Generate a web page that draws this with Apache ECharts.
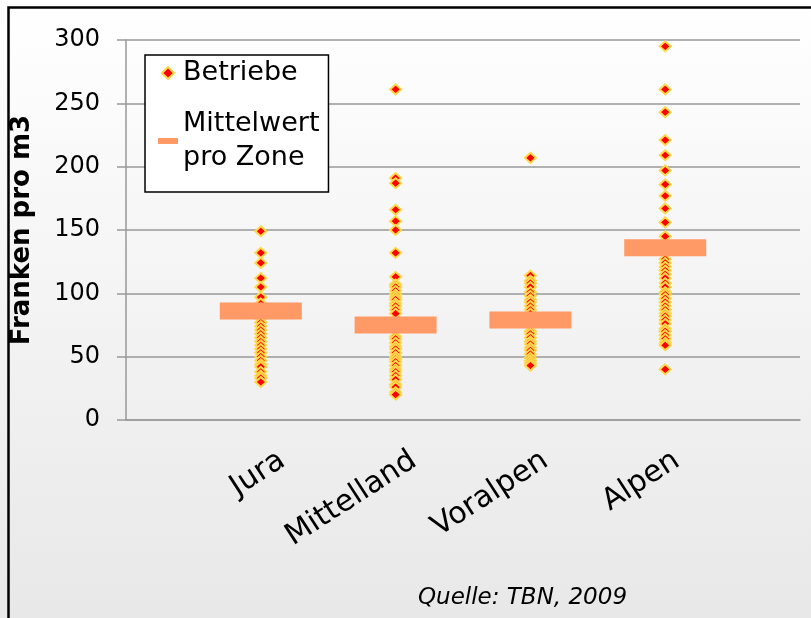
<!DOCTYPE html>
<html>
<head>
<meta charset="utf-8">
<script src="https://cdn.jsdelivr.net/npm/echarts@6/dist/echarts.min.js"></script>
<style>
  html, body { margin: 0; padding: 0; }
  #chart { width: 811px; height: 618px; }
</style>
</head>
<body>
<div id="chart"></div>
<script>
// zones on the x axis (positions 1..4)
const zones = ['Jura', 'Mittelland', 'Voralpen', 'Alpen']

// Franken pro m3, one value per Betrieb
const juraValues = [149, 132, 124, 112, 105, 97, 92, 88, 84, 80, 77, 74, 71, 68, 65,
    62, 59, 56, 53, 50, 47, 44, 42, 38, 35, 33, 30]
const mittellandValues = [261, 191, 187, 166, 157, 150, 132, 113, 107, 105, 102, 99, 97,
    95, 92, 90, 87, 84, 66, 64, 61, 58, 56, 53, 50, 48, 46, 43, 40, 38, 35, 32, 28, 26, 22, 20]
const voralpenValues = [207, 114, 110, 108, 105, 101, 98, 95, 93, 90, 87, 84, 70, 68, 65,
    62, 60, 57, 55, 52, 49, 47, 45, 43]
const alpenValues = [295, 261, 243, 221, 209, 197, 186, 177, 167, 156, 145, 127, 124, 121,
    118, 115, 112, 108, 105, 101, 99, 96, 93, 90, 87, 84, 82, 79, 76, 72, 70, 67, 64, 61, 59, 40]

// Mittelwert pro Zone
const means = [86, 75, 79, 136]

const yTicks = [0, 50, 100, 150, 200, 250, 300]

const FONT = 'DejaVu Sans'

const pointData = []
;[juraValues, mittellandValues, voralpenValues, alpenValues].forEach((vals, i) => {
    vals.forEach(v => pointData.push([i + 1, v]))
})
const meanData = means.map((m, i) => [i + 1, m])

const chart = echarts.init(document.getElementById('chart'))

chart.setOption({
    backgroundColor: new echarts.graphic.LinearGradient(0, 0, 0, 1, [
        { offset: 0, color: '#FFFFFF' },
        { offset: 1, color: '#E8E8E8' },
    ]),
    animation: false,
    textStyle: { fontFamily: FONT },
    title: {
        text: 'Quelle: TBN, 2009',
        left: 413,
        top: 582,
        textStyle: {
            fontFamily: FONT,
            fontStyle: 'italic',
            fontWeight: 'normal',
            fontSize: 23,
            color: '#000',
        },
    },
    legend: {
        orient: 'vertical',
        left: 145,
        top: 55,
        padding: [1, 9, 0, 13],
        itemGap: 0,
        itemWidth: 20,
        itemHeight: 12,
        backgroundColor: '#FFFFFF',
        borderColor: '#000',
        borderWidth: 1.5,
        borderRadius: 0,
        formatter: name => name === 'Mittelwert pro Zone' ? 'Mittelwert\npro Zone' : name,
        textStyle: { fontFamily: FONT, fontSize: 27, color: '#000', lineHeight: 34 },
        data: [
            { name: 'Betriebe', icon: 'path://M6,0L12,6L6,12L0,6Z' },
            {
                name: 'Mittelwert pro Zone',
                icon: 'path://M0,0h20v6h-20z',
                textStyle: { padding: [34, 0, 0, 0] },
            },
        ],
    },
    grid: [
        { left: 126, top: 40, width: 674, height: 380 },
        // label-only grid, shifted so the rotated names sit like in the original
        { left: 151, top: 40, width: 674, height: 380, show: false },
    ],
    xAxis: [
        {
            type: 'value',
            gridIndex: 0,
            min: 0,
            max: 5,
            interval: 1,
            axisLine: { show: true, onZero: false, lineStyle: { color: '#999', width: 1.5 } },
            axisTick: { show: false },
            axisLabel: { show: false },
            splitLine: { show: false },
        },
        {
            type: 'value',
            gridIndex: 1,
            min: 0,
            max: 5,
            interval: 1,
            axisLine: { show: false },
            axisTick: { show: false },
            splitLine: { show: false },
            axisLabel: {
                rotate: 33,
                margin: 38,
                fontFamily: FONT,
                fontSize: 30,
                color: '#000',
                formatter: v => zones[v - 1] || '',
            },
        },
    ],
    yAxis: [
        {
            type: 'value',
            gridIndex: 0,
            min: 0,
            max: 300,
            interval: 50,
            name: 'Franken pro m3',
            nameLocation: 'middle',
            nameGap: 91,
            nameRotate: 90,
            nameTextStyle: { fontFamily: FONT, fontSize: 26, fontWeight: 'bold', color: '#000' },
            axisLine: { show: true, lineStyle: { color: '#999', width: 1.5 } },
            axisTick: { show: true, length: 9, lineStyle: { color: '#999', width: 1.5 } },
            axisLabel: {
                margin: 26,
                fontFamily: FONT,
                fontSize: 24,
                color: '#000',
                formatter: v => yTicks.includes(v) ? String(v) : '',
            },
            splitLine: { show: true, lineStyle: { color: '#999', width: 1.5 } },
        },
        {
            type: 'value',
            gridIndex: 1,
            min: 0,
            max: 300,
            show: false,
        },
    ],
    graphic: [
        {
            type: 'rect',
            left: 6,
            top: 5,
            shape: { x: 0, y: 0, width: 900, height: 900 },
            style: { fill: 'none', stroke: '#000', lineWidth: 2.5 },
            silent: true,
            z: 100,
        },
    ],
    series: [
        {
            name: 'Betriebe',
            type: 'scatter',
            xAxisIndex: 0,
            yAxisIndex: 0,
            symbol: 'diamond',
            symbolSize: [11, 10],
            itemStyle: { color: '#FF0000', borderColor: '#FFD84A', borderWidth: 2, opacity: 1 },
            data: pointData,
            z: 2,
        },
        {
            name: 'Mittelwert pro Zone',
            type: 'scatter',
            xAxisIndex: 0,
            yAxisIndex: 0,
            symbol: 'rect',
            symbolSize: [82, 17],
            itemStyle: { color: '#FF9966', opacity: 1 },
            data: meanData,
            z: 3,
        },
    ],
})
</script>
</body>
</html>
